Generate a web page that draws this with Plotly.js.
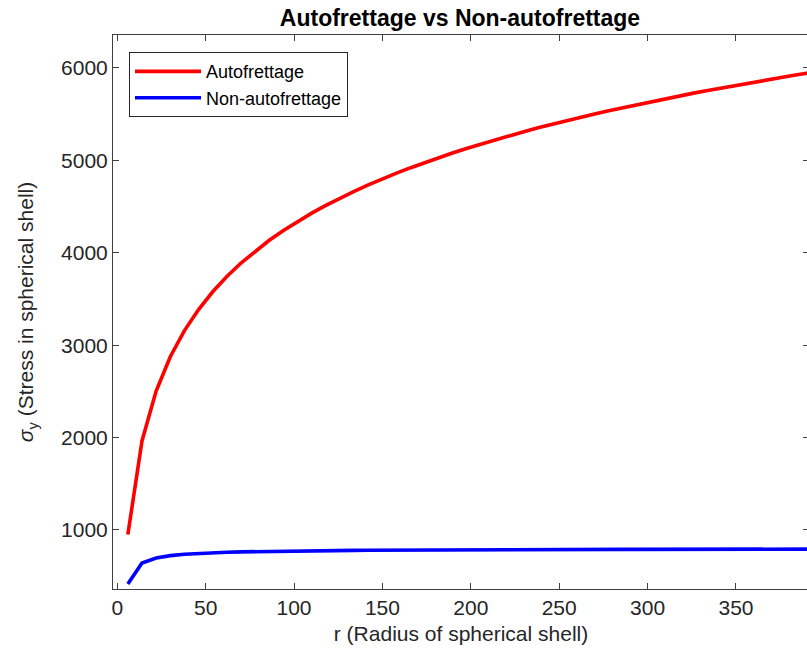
<!DOCTYPE html>
<html>
<head>
<meta charset="utf-8">
<script src="https://cdn.plot.ly/plotly-3.0.1.min.js"></script>
<style>
  html, body { margin: 0; padding: 0; overflow: hidden; background: #fff; }
  #chart { width: 812px; height: 656px; }
</style>
</head>
<body>
<div id="chart"></div>
<script>
// Radius values (sample points)
const radius = [6, 14, 22, 30, 38, 46, 54, 62, 70, 78, 86, 94, 102, 110, 118, 126, 134, 142, 150, 158,
  166, 174, 182, 190, 198, 206, 214, 222, 230, 238, 246, 254, 262, 270, 278, 286, 294, 302, 310, 318,
  326, 334, 342, 350, 358, 366, 374, 382, 390, 398];

// Autofrettage stress
const autofrettage = [950, 1963, 2504, 2875, 3158, 3386, 3578, 3743, 3889, 4018, 4135, 4241, 4338, 4429,
  4513, 4592, 4665, 4734, 4800, 4862, 4921, 4977, 5031, 5082, 5132, 5179, 5224, 5269, 5311, 5352, 5392,
  5429, 5467, 5503, 5538, 5571, 5605, 5637, 5668, 5698, 5728, 5757, 5785, 5813, 5840, 5867, 5892, 5918,
  5942, 5967];

// Non-autofrettage stress
const nonAutofrettage = [416, 643, 697, 722, 737, 747, 754, 759, 763, 766, 769, 771, 773, 775, 776, 778,
  779, 780, 781, 782, 783, 783, 784, 785, 785, 786, 786, 787, 787, 788, 788, 788, 789, 789, 789, 790, 790,
  790, 791, 791, 791, 791, 792, 792, 792, 792, 793, 793, 793, 793];

const xTicks = [0, 50, 100, 150, 200, 250, 300, 350];
const yTicks = [1000, 2000, 3000, 4000, 5000, 6000];

const FONT = 'Liberation Sans, Arial, Helvetica, sans-serif';
const TXT = '#262626';

const traces = [
  { x: radius, y: autofrettage, type: 'scatter', mode: 'lines', name: 'Autofrettage',
    line: { color: '#ff0000', width: 3.6 } },
  { x: radius, y: nonAutofrettage, type: 'scatter', mode: 'lines', name: 'Non-autofrettage',
    line: { color: '#0000ff', width: 3.6 } }
];

const axisCommon = {
  showgrid: false, zeroline: false, showline: true, linecolor: '#404040', linewidth: 1,
  mirror: 'ticks', ticks: 'inside', ticklen: 6, tickwidth: 1, tickcolor: '#404040',
  tickfont: { family: FONT, size: 21, color: TXT }, automargin: false
};

const layout = {
  width: 812, height: 656,
  margin: { l: 113, r: 3, t: 35, b: 67 },
  paper_bgcolor: '#fff', plot_bgcolor: '#fff',
  font: { family: FONT, color: TXT },
  title: { text: '<b>Autofrettage vs Non-autofrettage</b>', font: { family: FONT, size: 23, color: '#000' },
    x: 0.5665, xanchor: 'center', y: 0.972, yanchor: 'middle' },
  xaxis: Object.assign({}, axisCommon, {
    range: [-2.4, 391.3], tickvals: xTicks, ticktext: xTicks.map(String),
    title: { text: 'r (Radius of spherical shell)', font: { family: FONT, size: 21, color: TXT }, standoff: 8 }
  }),
  yaxis: Object.assign({}, axisCommon, {
    range: [361, 6357], tickvals: yTicks, ticktext: yTicks.map(String),
    title: { text: '<i>σ</i><sub>y</sub> (Stress in spherical shell)', font: { family: FONT, size: 21, color: TXT }, standoff: 21 }
  }),
  showlegend: true,
  legend: {
    x: 0.023, y: 0.969, xanchor: 'left', yanchor: 'top',
    bgcolor: '#fff', bordercolor: '#262626', borderwidth: 1,
    font: { family: FONT, size: 18, color: '#000' },
    itemwidth: 66, tracegroupgap: 0
  }
};

Plotly.newPlot('chart', traces, layout, { displayModeBar: false, staticPlot: true });
</script>
</body>
</html>
